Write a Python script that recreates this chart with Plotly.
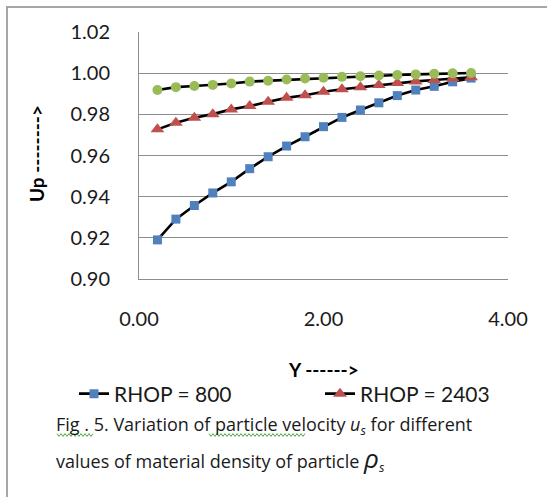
import plotly.graph_objects as go

# Distance Y along the duct and normalised particle velocity Up
y_dist = [0.2, 0.4, 0.6, 0.8, 1.0, 1.2, 1.4, 1.6, 1.8, 2.0,
          2.2, 2.4, 2.6, 2.8, 3.0, 3.2, 3.4, 3.6]
up_rhop_800 = [0.9190, 0.9291, 0.9357, 0.9418, 0.9472, 0.9536, 0.9594, 0.9646, 0.9691,
               0.9740, 0.9785, 0.9821, 0.9856, 0.9891, 0.9918, 0.9936, 0.9958, 0.9976]
up_rhop_2403 = [0.9727, 0.9759, 0.9783, 0.9801, 0.9824, 0.9840, 0.9861, 0.9880, 0.9893,
                0.9910, 0.9922, 0.9932, 0.9943, 0.9952, 0.9960, 0.9967, 0.9974, 0.9980]
up_rhop_heavy = [0.9918, 0.9932, 0.9938, 0.9943, 0.9950, 0.9959, 0.9963, 0.9969, 0.9974,
                 0.9978, 0.9982, 0.9985, 0.9989, 0.9991, 0.9994, 0.9997, 0.9999, 1.0001]

series_names = ["RHOP = 800", "RHOP = 2403", "RHOP (3)"]
series_colors = ["#4F81BD", "#C0504D", "#9BBB59"]
series_symbols = ["square", "triangle-up", "circle"]
series_sizes = [9, 12, 10]
series_legends = ["legend", "legend2", None]

y_ticks = [0.90, 0.92, 0.94, 0.96, 0.98, 1.00, 1.02]
y_tick_text = ["0.90", "0.92", "0.94", "0.96", "0.98", "1.00", "1.02"]
x_ticks = [0, 2, 4]
x_tick_text = ["0.00", "2.00", "4.00"]

W, H = 547, 497
ML, MR, MT, MB = 139, 39, 32, 218
PW, PH = W - ML - MR, H - MT - MB
FONT = "Lato"
CAP_FONT = "Open Sans"
INK = "#1a1a1a"
GRID = "#8c8c8c"


def px_x(px):
    return (px - ML) / PW


def px_y(py):
    return (H - MB - py) / PH


def squiggle(x0, x1, y, step=2.0, amp=1.4):
    # zig-zag underline path in paper coordinates
    pts = []
    k = 0
    x = x0
    while x <= x1:
        pts.append((px_x(x), px_y(y + (amp if k % 2 else -amp))))
        x += step
        k += 1
    return "M" + " L".join(f"{a:.5f},{b:.5f}" for a, b in pts)


fig = go.Figure()
for vals, name, col, sym, size, leg in zip(
        [up_rhop_800, up_rhop_2403, up_rhop_heavy],
        series_names, series_colors, series_symbols, series_sizes, series_legends):
    fig.add_trace(go.Scatter(
        x=y_dist, y=vals, name=name, mode="lines+markers",
        line=dict(color="black", width=2.6),
        marker=dict(symbol=sym, size=size, color=col, line=dict(width=0)),
        showlegend=leg is not None, legend=leg or "legend",
    ))

# outer frame of the chart object
fig.add_shape(type="rect", xref="paper", yref="paper",
              x0=px_x(7), x1=px_x(W + 20), y0=px_y(7), y1=px_y(H + 20),
              line=dict(color="#a6a6a6", width=2), layer="below")

# spell-check underlines in the caption
for sx0, sx1 in [(57, 93), (209, 306)]:
    fig.add_shape(type="path", xref="paper", yref="paper",
                  path=squiggle(sx0, sx1, 435),
                  line=dict(color="#4aa83a", width=1))

annotations = [
    dict(text="<b>Up --------></b>", x=px_x(36), y=px_y(153), textangle=-90,
         font=dict(size=19, color="black", family=FONT)),
    dict(text="<b>Y ------></b>", x=px_x(323), y=px_y(369),
         font=dict(size=19, color="black", family=FONT)),
    dict(text="Fig . 5. Variation of particle velocity <i>u<sub>s</sub></i> for different",
         x=px_x(54), y=px_y(425), xanchor="left",
         font=dict(size=18, color=INK, family=CAP_FONT)),
    dict(text="values of material density of particle <i><span style='font-size:26px'>ρ</span><sub>s</sub></i>",
         x=px_x(54), y=px_y(458), xanchor="left",
         font=dict(size=18, color=INK, family=CAP_FONT)),
]
for a in annotations:
    a.setdefault("xanchor", "center")
    fig.add_annotation(xref="paper", yref="paper", showarrow=False,
                       yanchor="middle", **a)

legend_style = dict(orientation="h", xref="container", yref="container",
                    y=1 - 394 / H, xanchor="left", yanchor="middle",
                    font=dict(size=21, color=INK, family=FONT),
                    bgcolor="rgba(0,0,0,0)")

fig.update_layout(
    width=W, height=H,
    margin=dict(l=ML, r=MR, t=MT, b=MB, autoexpand=False),
    paper_bgcolor="white", plot_bgcolor="white",
    font=dict(family=FONT, color=INK),
    legend=dict(x=74 / W, **legend_style),
    legend2=dict(x=320 / W, **legend_style),
)
fig.update_xaxes(range=[0, 4], tickvals=x_ticks, ticktext=x_tick_text,
                 showgrid=False, zeroline=False, showline=True,
                 linecolor=GRID, linewidth=1, ticks="",
                 ticklabelstandoff=22, tickfont=dict(size=20, color=INK))
fig.update_yaxes(range=[0.90, 1.02], tickvals=y_ticks, ticktext=y_tick_text,
                 showgrid=True, gridcolor=GRID, gridwidth=1.2, zeroline=False,
                 showline=True, linecolor=GRID, linewidth=1, ticks="",
                 ticklabelstandoff=24, tickfont=dict(size=20, color=INK))

fig.write_html("out.html")
